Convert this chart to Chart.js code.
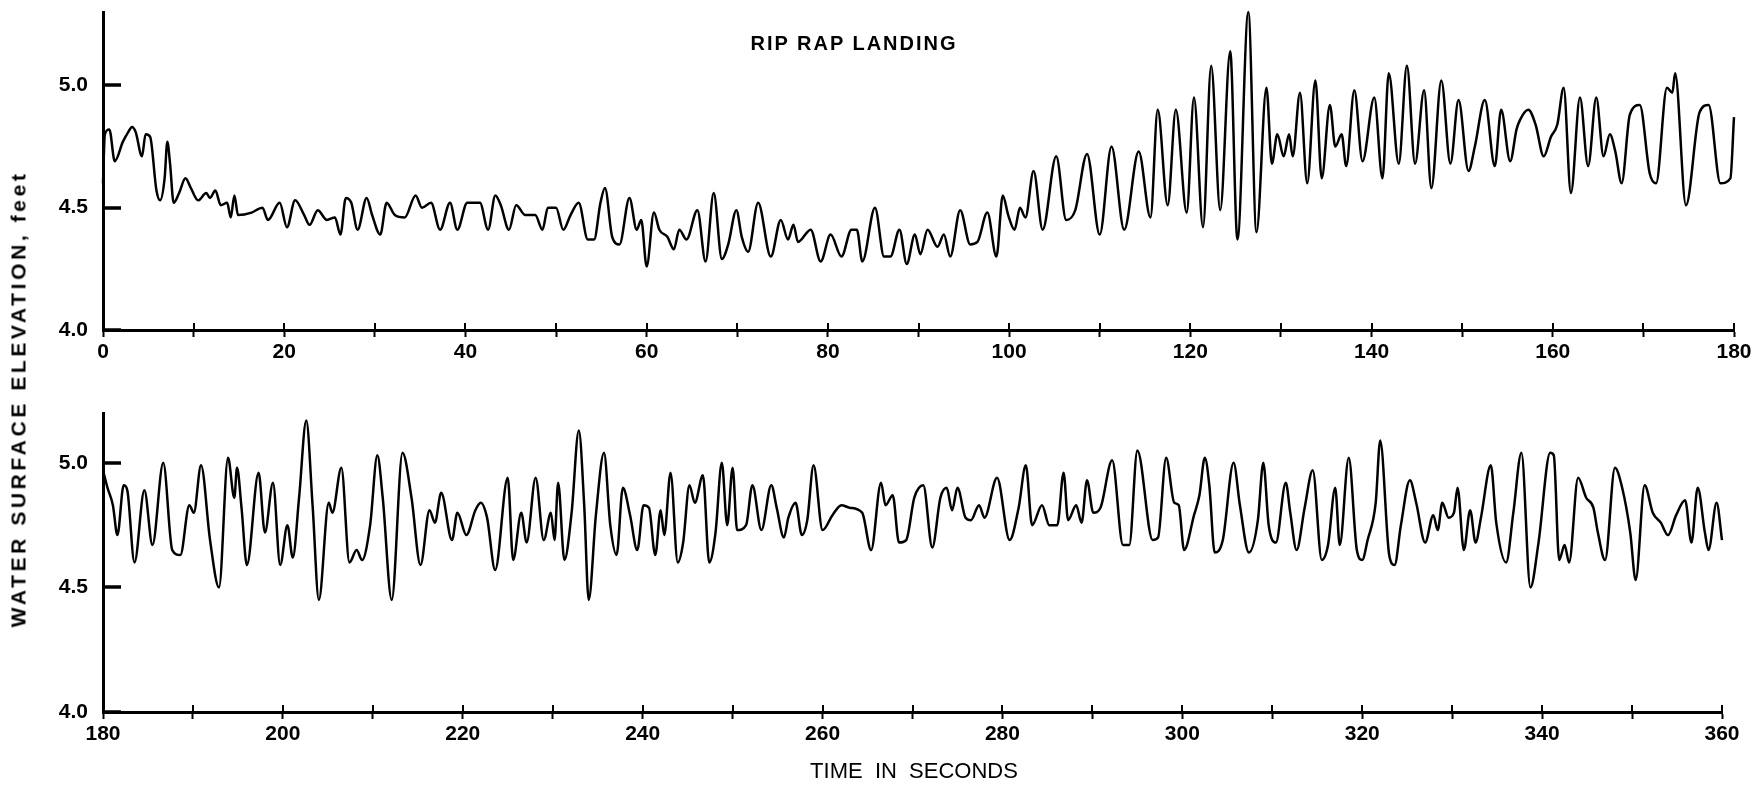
<!DOCTYPE html>
<html>
<head>
<meta charset="utf-8">
<script src="https://cdn.jsdelivr.net/npm/chart.js@4/dist/chart.umd.min.js"></script>
<style>
html,body{margin:0;padding:0;background:#fff;width:1760px;height:786px;overflow:hidden;}
#wrap{position:relative;width:1760px;height:786px;background:#fff;}
#c1{position:absolute;left:0;top:0;}
#c2{position:absolute;left:0;top:375px;}
.lbl{position:absolute;font-family:"Liberation Sans",Arial,Helvetica,sans-serif;color:#000;white-space:pre;line-height:1;}
#title{left:854px;top:43px;transform:translate(-50%,-50%);font-weight:bold;font-size:20px;letter-spacing:2px;}
#xt{left:914px;top:771px;transform:translate(-50%,-50%);font-size:22px;}
#yt{left:18px;top:399px;transform:translate(-50%,-50%) rotate(-90deg);font-weight:bold;font-size:21px;letter-spacing:3.6px;}
</style>
</head>
<body>
<div id="wrap">
<canvas id="c1" width="1760" height="375"></canvas>
<canvas id="c2" width="1760" height="411"></canvas>
<div class="lbl" id="title">RIP RAP LANDING</div>
<div class="lbl" id="yt">WATER SURFACE ELEVATION, feet</div>
<div class="lbl" id="xt">TIME  IN  SECONDS</div>
</div>
<script>
// ---- Data: first 180 s (top panel) ----
const topTimes = [0,0.2,0.7,1.3,2.2,2.8,3.2,3.6,4.3,4.7,5.2,5.9,6.3,6.8,7.1,7.4,7.8,8.4,9.1,9.7,10.5,11.4,11.8,12.4,13.0,13.7,14.1,14.5,14.9,16.4,17.6,18.2,19.5,20.3,21.2,22.2,22.8,23.7,24.7,25.6,26.2,26.8,27.4,28.1,29.1,29.7,30.6,31.3,32.2,33.3,34.5,35.2,36.2,37.2,38.3,39.1,40.2,40.8,41.6,42.5,43.3,43.9,44.8,45.6,46.6,47.7,48.5,49.1,50.0,50.8,51.6,52.5,53.5,54.2,54.9,55.4,56.2,57.0,58.1,58.9,59.4,60.0,60.8,61.4,62.3,63.0,63.6,64.4,65.6,66.5,67.4,68.3,69.0,69.9,70.5,71.2,72.3,73.7,74.8,75.6,76.2,76.7,78.1,79.2,80.3,81.5,82.6,83.2,83.8,85.2,86.2,86.9,87.9,88.7,89.6,90.2,91.0,92.1,92.8,93.5,94.6,95.7,96.5,97.6,98.6,99.3,99.9,100.6,101.2,101.8,102.7,103.7,105.2,106.3,107.3,108.6,110.0,111.3,112.7,114.3,115.6,116.4,117.5,118.4,119.6,120.4,121.4,122.3,123.3,124.4,125.2,126.4,127.3,128.4,129.0,129.6,130.3,130.9,131.3,132.1,132.9,133.8,134.5,135.4,136.0,136.7,137.2,138.1,139.0,140.3,141.2,141.9,143.0,143.9,144.8,145.8,146.6,147.7,148.7,149.6,150.7,151.4,152.5,153.6,154.3,155.3,156.0,156.4,157.3,158.1,159.0,159.8,160.5,161.2,162.0,163.0,163.9,164.8,165.6,166.3,166.9,167.6,168.5,169.6,170.7,171.4,172.6,173.2,173.5,174.7,176.2,177.2,178.5,179.6,180.0];
const topValues = [4.60,4.80,4.82,4.69,4.77,4.81,4.83,4.81,4.71,4.80,4.79,4.57,4.53,4.62,4.77,4.68,4.52,4.56,4.62,4.58,4.53,4.56,4.54,4.57,4.51,4.52,4.46,4.55,4.47,4.48,4.50,4.45,4.52,4.42,4.53,4.47,4.43,4.49,4.45,4.46,4.39,4.54,4.52,4.41,4.54,4.47,4.39,4.52,4.47,4.46,4.55,4.50,4.52,4.41,4.52,4.41,4.52,4.52,4.52,4.41,4.55,4.51,4.41,4.51,4.47,4.47,4.41,4.50,4.50,4.41,4.47,4.52,4.37,4.37,4.52,4.58,4.38,4.35,4.54,4.41,4.45,4.26,4.48,4.41,4.38,4.33,4.41,4.37,4.49,4.28,4.56,4.29,4.35,4.49,4.38,4.32,4.52,4.30,4.45,4.37,4.43,4.36,4.41,4.28,4.39,4.30,4.41,4.41,4.28,4.50,4.30,4.30,4.41,4.27,4.39,4.31,4.41,4.34,4.39,4.30,4.49,4.35,4.36,4.48,4.30,4.55,4.47,4.41,4.50,4.46,4.65,4.41,4.71,4.45,4.49,4.72,4.39,4.75,4.41,4.73,4.46,4.90,4.51,4.90,4.48,4.95,4.42,5.08,4.49,5.14,4.37,5.30,4.40,4.99,4.68,4.80,4.71,4.80,4.71,4.97,4.60,5.02,4.62,4.92,4.75,4.80,4.67,4.98,4.69,4.95,4.62,5.05,4.68,5.08,4.68,4.98,4.58,5.02,4.68,4.94,4.65,4.75,4.94,4.67,4.90,4.69,4.82,4.86,4.90,4.84,4.71,4.79,4.84,4.99,4.56,4.95,4.67,4.95,4.71,4.80,4.73,4.60,4.88,4.92,4.64,4.60,4.99,4.97,5.05,4.51,4.89,4.92,4.60,4.62,4.87];

// ---- Data: 180 to 360 s (bottom panel) ----
const bottomTimes = [180.0,180.5,181.1,181.6,182.3,182.7,183.5,184.6,185.5,186.7,187.7,188.6,189.6,190.1,190.9,191.9,192.9,193.9,194.6,194.9,195.4,196.0,197.3,198.0,198.9,199.7,200.5,201.1,201.8,202.6,203.3,204.0,205.1,205.5,206.5,207.4,208.2,208.8,209.7,210.5,211.1,212.1,213.3,214.3,215.3,216.3,216.9,217.6,218.8,219.4,220.4,221.4,222.0,222.7,223.6,225.0,225.6,226.5,227.1,228.1,229.0,229.8,230.2,230.6,231.3,232.1,232.9,233.5,234.0,234.8,235.7,236.4,237.1,237.8,238.6,239.4,240.1,240.7,241.4,242.0,242.4,243.1,243.9,244.5,245.2,245.8,246.7,247.4,248.1,248.8,249.4,250.0,250.5,251.5,252.2,253.2,254.3,254.9,255.7,256.2,257.0,257.7,258.3,259.0,260.0,261.1,262.1,263.0,264.4,265.4,266.5,267.0,267.8,268.5,269.3,270.2,271.2,272.2,273.1,273.8,274.4,275.0,275.9,276.5,277.4,278.0,279.4,280.8,281.8,282.6,283.3,284.4,285.2,286.1,286.8,287.3,288.2,288.8,289.4,290.1,290.9,292.2,293.4,294.1,295.0,296.7,297.3,298.2,299.1,299.6,300.2,301.3,301.9,302.5,303.0,303.6,304.5,305.7,306.4,307.4,308.4,309.0,309.6,310.4,311.5,312.0,312.7,313.6,314.5,315.5,316.2,317.0,317.5,318.5,319.4,320.0,320.6,321.5,322.0,323.0,323.6,324.3,325.3,326.0,327.0,327.9,328.4,328.9,329.6,330.2,330.6,331.3,332.0,332.6,333.2,334.3,334.9,336.0,336.8,337.7,338.7,339.6,340.9,341.3,341.9,342.5,343.0,344.0,344.9,345.7,346.2,347.0,348.1,348.9,349.8,350.4,351.4,352.3,353.2,354.0,354.9,355.9,356.6,357.3,358.1,358.5,359.4,360.0];
const bottomValues = [4.97,4.90,4.83,4.71,4.91,4.89,4.60,4.89,4.67,5.00,4.65,4.63,4.83,4.80,4.99,4.69,4.50,5.02,4.86,4.98,4.82,4.59,4.96,4.72,4.92,4.59,4.75,4.62,4.86,5.17,4.83,4.45,4.84,4.80,4.98,4.60,4.65,4.61,4.75,5.03,4.86,4.45,5.04,4.86,4.59,4.81,4.76,4.88,4.69,4.80,4.71,4.81,4.84,4.78,4.57,4.94,4.61,4.80,4.68,4.94,4.69,4.80,4.69,4.92,4.61,4.80,5.13,4.83,4.45,4.79,5.04,4.75,4.63,4.90,4.79,4.65,4.83,4.82,4.63,4.81,4.71,4.96,4.60,4.68,4.91,4.84,4.95,4.60,4.72,5.00,4.75,4.98,4.73,4.75,4.91,4.73,4.91,4.82,4.70,4.78,4.84,4.71,4.77,4.99,4.73,4.79,4.83,4.82,4.80,4.65,4.92,4.83,4.87,4.68,4.69,4.86,4.91,4.66,4.86,4.90,4.81,4.90,4.78,4.77,4.83,4.78,4.94,4.69,4.82,4.99,4.75,4.83,4.75,4.75,4.96,4.77,4.83,4.76,4.93,4.80,4.82,5.01,4.67,4.67,5.05,4.69,4.70,5.02,4.84,4.83,4.65,4.79,4.87,5.02,4.91,4.64,4.69,5.00,4.83,4.64,4.77,5.00,4.75,4.68,4.92,4.80,4.65,4.82,4.97,4.61,4.67,4.90,4.67,5.02,4.65,4.61,4.69,4.84,5.09,4.63,4.59,4.75,4.93,4.84,4.68,4.79,4.73,4.84,4.78,4.80,4.90,4.65,4.81,4.68,4.78,4.99,4.76,4.60,4.80,5.04,4.50,4.68,5.04,5.03,4.61,4.67,4.60,4.94,4.86,4.82,4.72,4.61,4.98,4.90,4.72,4.53,4.91,4.80,4.76,4.71,4.79,4.85,4.68,4.90,4.72,4.65,4.84,4.69];

// ---- Tick values and labels ----
const topXTicks = [0,10,20,30,40,50,60,70,80,90,100,110,120,130,140,150,160,170,180];
const topXLabels = [0,20,40,60,80,100,120,140,160,180];
const bottomXTicks = [180,190,200,210,220,230,240,250,260,270,280,290,300,310,320,330,340,350,360];
const bottomXLabels = [180,200,220,240,260,280,300,320,340,360];
const yTicks = [4.0,4.5,5.0];

const FONT = '"Liberation Sans", Arial, Helvetica, sans-serif';
Chart.defaults.font.family = FONT;

// tick marks inside the plot: upper halves of x ticks, inward y ticks
const innerTicks = {
  id: 'innerTicks',
  afterDatasetsDraw(chart) {
    const xs = chart.scales.x, ys = chart.scales.y;
    const ctx = chart.ctx;
    const left = chart.chartArea.left, bottom = chart.chartArea.bottom;
    ctx.save();
    ctx.strokeStyle = '#000';
    ctx.lineCap = 'butt';
    ctx.lineWidth = 2;
    xs.ticks.forEach(t => {
      const px = Math.round(xs.getPixelForValue(t.value));
      ctx.beginPath();
      ctx.moveTo(px, bottom);
      ctx.lineTo(px, bottom - 7);
      ctx.stroke();
    });
    ctx.lineWidth = 3.5;
    yTicks.forEach(v => {
      const py = Math.round(ys.getPixelForValue(v));
      ctx.beginPath();
      ctx.moveTo(left - 1, py);
      ctx.lineTo(left + 18, py);
      ctx.stroke();
    });
    ctx.restore();
  }
};

function panel(canvasId, times, values, xMin, xMax, yMax, xTickVals, xLabelVals, padTop, padRight, xAxisH) {
  const pts = times.map((t, i) => ({x: t, y: values[i]}));
  return new Chart(document.getElementById(canvasId), {
    type: 'line',
    data: {datasets: [{
      data: pts,
      borderColor: '#000',
      borderWidth: 2.5,
      pointRadius: 0,
      fill: false,
      cubicInterpolationMode: 'monotone',
      clip: 6
    }]},
    options: {
      responsive: false,
      animation: false,
      events: [],
      layout: {padding: {top: padTop, right: padRight, left: 0, bottom: 0}},
      plugins: {legend: {display: false}, tooltip: {enabled: false}, title: {display: false}},
      scales: {
        x: {
          type: 'linear', min: xMin, max: xMax,
          afterBuildTicks: s => { s.ticks = xTickVals.map(v => ({value: v})); },
          afterFit: s => { s.height = xAxisH; s.paddingLeft = 0; s.paddingRight = 0; },
          grid: {drawOnChartArea: false, drawTicks: true, tickLength: 7, tickWidth: 2, tickColor: '#000'},
          border: {display: true, color: '#000', width: 3},
          ticks: {
            autoSkip: false, maxRotation: 0, minRotation: 0, padding: 3, color: '#000',
            font: {family: FONT, size: 21, weight: 'bold'},
            callback: v => xLabelVals.includes(v) ? String(v) : ''
          }
        },
        y: {
          min: 4.0, max: yMax,
          afterBuildTicks: s => { s.ticks = yTicks.map(v => ({value: v})); },
          afterFit: s => { s.width = 103; s.paddingTop = 0; s.paddingBottom = 0; },
          grid: {drawOnChartArea: false, drawTicks: false},
          border: {display: true, color: '#000', width: 3},
          ticks: {
            padding: 15, color: '#000',
            font: {family: FONT, size: 21, weight: 'bold'},
            callback: v => Number(v).toFixed(1)
          }
        }
      }
    },
    plugins: [innerTicks]
  });
}

panel('c1', topTimes, topValues, 0, 180, 5.3, topXTicks, topXLabels, 12, 26, 45);
panel('c2', bottomTimes, bottomValues, 180, 360, 5.2, bottomXTicks, bottomXLabels, 38, 38, 74);
</script>
</body>
</html>
